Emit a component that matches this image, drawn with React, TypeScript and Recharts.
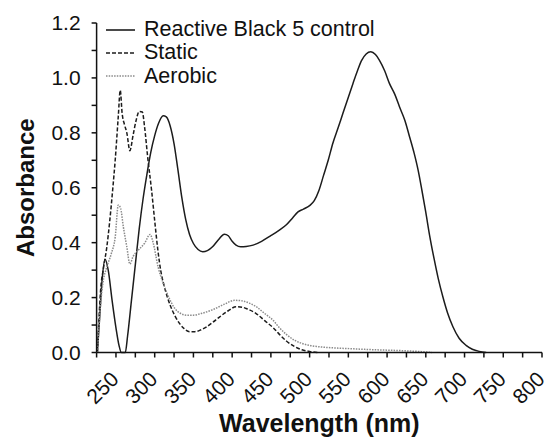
import { LineChart, Line, XAxis, YAxis, Legend } from 'recharts';

// wavelength (nm) / absorbance
const controlNm = [226, 229, 232, 236, 240, 245, 250, 254, 257, 262, 265, 270, 275, 280, 285, 290, 295, 300, 305, 311, 315, 320, 325, 330, 335, 340, 345, 350, 356, 362, 368, 375, 382, 390, 395, 400, 405, 411, 418, 427, 438, 449, 460, 470, 478, 485, 492, 500, 506, 512, 518, 524, 530, 537, 543, 550, 556, 562, 567, 573, 579, 585, 590, 597, 603, 610, 616, 623, 629, 635, 640, 645, 650, 655, 661, 666, 672, 678, 685, 693, 702, 710, 719, 728];
const controlAbs = [0, 0.13, 0.26, 0.34, 0.3, 0.19, 0.09, 0.025, 0, 0, 0.06, 0.19, 0.32, 0.45, 0.56, 0.65, 0.73, 0.79, 0.835, 0.862, 0.858, 0.825, 0.76, 0.665, 0.565, 0.485, 0.43, 0.397, 0.375, 0.367, 0.371, 0.386, 0.41, 0.431, 0.425, 0.405, 0.391, 0.385, 0.386, 0.391, 0.405, 0.424, 0.444, 0.465, 0.49, 0.512, 0.522, 0.535, 0.553, 0.59, 0.645, 0.7, 0.762, 0.82, 0.871, 0.93, 0.98, 1.028, 1.063, 1.087, 1.095, 1.085, 1.065, 1.025, 0.98, 0.94, 0.895, 0.845, 0.786, 0.725, 0.665, 0.59, 0.51, 0.425, 0.337, 0.27, 0.203, 0.145, 0.094, 0.052, 0.026, 0.012, 0.004, 0];

const staticNm = [226, 228, 230, 234, 238, 242, 246, 249, 253, 255.5, 258, 261, 264, 268, 272, 276, 280, 284, 287, 291, 296, 300, 304, 308, 312, 316, 320, 326, 332, 338, 345, 352, 360, 367, 375, 384, 395, 405, 413, 420, 431, 442, 453, 461, 470, 481, 490, 500, 510];
const staticAbs = [0, 0.12, 0.22, 0.31, 0.38, 0.48, 0.6, 0.7, 0.86, 0.955, 0.87, 0.83, 0.8, 0.735, 0.79, 0.845, 0.878, 0.876, 0.82, 0.71, 0.59, 0.48, 0.375, 0.295, 0.245, 0.205, 0.172, 0.134, 0.106, 0.087, 0.076, 0.076, 0.083, 0.093, 0.11, 0.13, 0.152, 0.167, 0.165, 0.158, 0.142, 0.116, 0.09, 0.066, 0.042, 0.021, 0.01, 0.004, 0];

const aerobicNm = [226, 228, 230, 233, 238, 244, 249, 253, 256, 259.5, 264, 268, 272, 279, 287, 294, 298, 304.5, 311, 320, 326, 333, 341, 350, 360, 375, 390, 403, 413, 422, 431, 442, 453, 461, 470, 481, 490, 500, 509, 530, 552, 575, 595, 625, 645, 658];
const aerobicAbs = [0, 0.09, 0.17, 0.25, 0.31, 0.36, 0.42, 0.537, 0.525, 0.458, 0.385, 0.322, 0.349, 0.373, 0.398, 0.43, 0.4, 0.31, 0.252, 0.19, 0.16, 0.143, 0.136, 0.136, 0.142, 0.156, 0.176, 0.19, 0.188, 0.18, 0.167, 0.142, 0.117, 0.09, 0.066, 0.044, 0.033, 0.026, 0.022, 0.017, 0.014, 0.011, 0.009, 0.006, 0.003, 0];

const xTicks = [225, 250, 275, 300, 325, 350, 375, 400, 425, 450, 475, 500, 525, 550, 575, 600, 625, 650, 675, 700, 725, 750, 775, 800];
const yTicks = [0, 0.1, 0.2, 0.3, 0.4, 0.5, 0.6, 0.7, 0.8, 0.9, 1.0, 1.1, 1.2];

const FONT = '"Liberation Sans", Arial, sans-serif';

const series = [
  { name: 'Reactive Black 5 control', data: controlNm.map((x, i) => ({ x, y: controlAbs[i] })), stroke: '#1c1c1c', dash: undefined, width: 1.5 },
  { name: 'Static', data: staticNm.map((x, i) => ({ x, y: staticAbs[i] })), stroke: '#1c1c1c', dash: '4 2', width: 1.5 },
  { name: 'Aerobic', data: aerobicNm.map((x, i) => ({ x, y: aerobicAbs[i] })), stroke: '#8a8a8a', dash: '1.5 1.2', width: 1.5 },
];

const XTick = (props: any) => {
  const { x, y, payload } = props;
  const v = payload.value;
  if (v % 50 !== 0) return null;
  const ax = x + 4;
  const ay = y + 21;
  return (
    <text x={ax} y={ay} transform={`rotate(-45, ${ax}, ${ay})`} textAnchor="end" fontSize={21} fontFamily={FONT} fill="#111">
      {v}
    </text>
  );
};

const YTick = (props: any) => {
  const { x, y, payload } = props;
  const v = payload.value;
  if (Math.round(v * 10) % 2 !== 0) return null;
  return (
    <text x={x} y={y} dy="0.355em" textAnchor="end" fontSize={21} fontFamily={FONT} fill="#111">
      {v.toFixed(1)}
    </text>
  );
};

const LegendBox = () => (
  <div style={{ fontFamily: FONT, fontSize: 21.5, color: '#111' }}>
    {series.map((s) => (
      <div key={s.name} style={{ display: 'flex', alignItems: 'center', height: 23.3 }}>
        <svg width={29} height={10}>
          <line x1={0} y1={5} x2={29} y2={5} stroke={s.stroke} strokeWidth={1.6} strokeDasharray={s.dash} />
        </svg>
        <span style={{ marginLeft: 9, whiteSpace: 'nowrap' }}>{s.name}</span>
      </div>
    ))}
  </div>
);

export default function App() {
  return (
    <div style={{ position: 'absolute', left: 0, top: 0, background: '#fff' }}>
      <LineChart width={549} height={437} margin={{ top: 23, right: 7, left: 0, bottom: 0 }}>
        <XAxis
          type="number"
          dataKey="x"
          domain={[225, 800]}
          ticks={xTicks}
          interval={0}
          tickSize={5}
          tick={<XTick />}
          height={84.5}
          stroke="#111"
          strokeWidth={1.5}
          allowDataOverflow
          label={{ value: 'Wavelength (nm)', position: 'insideBottom', offset: 5, fontSize: 25, fontWeight: 'bold', fontFamily: FONT, fill: '#111' }}
        />
        <YAxis
          type="number"
          domain={[0, 1.2]}
          ticks={yTicks}
          interval={0}
          tickSize={5}
          tickMargin={11}
          tick={<YTick />}
          width={96.6}
          stroke="#111"
          strokeWidth={1.5}
          label={{ value: 'Absorbance', angle: -90, position: 'insideLeft', offset: 25, fontSize: 24, fontWeight: 'bold', fontFamily: FONT, fill: '#111', style: { textAnchor: 'middle' } }}
        />
        <Legend
          layout="vertical"
          align="center"
          verticalAlign="middle"
          wrapperStyle={{ left: 106, top: 18, width: 320 }}
          content={<LegendBox />}
        />
        {series.map((s) => (
          <Line
            key={s.name}
            name={s.name}
            data={s.data}
            dataKey="y"
            type="monotone"
            stroke={s.stroke}
            strokeWidth={s.width}
            strokeDasharray={s.dash}
            dot={false}
            activeDot={false}
            isAnimationActive={false}
          />
        ))}
      </LineChart>
    </div>
  );
}
